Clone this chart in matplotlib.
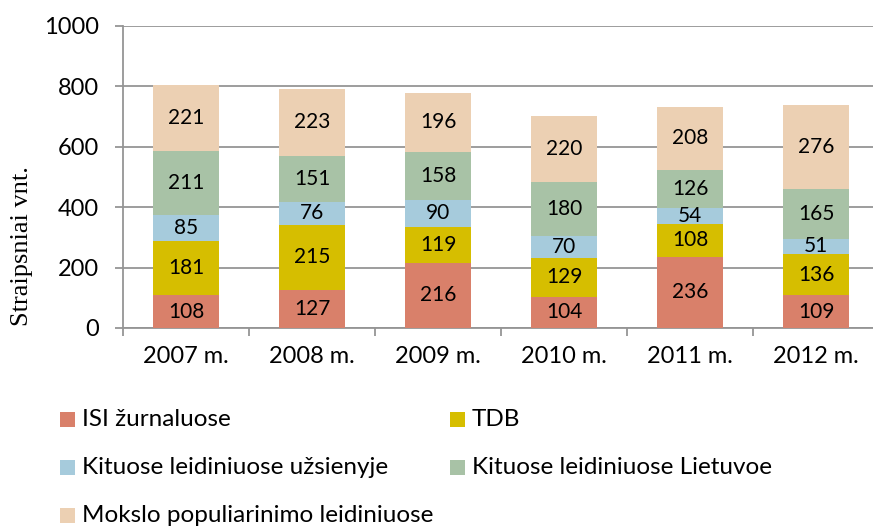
import matplotlib
matplotlib.use("Agg")
import matplotlib.pyplot as plt
import numpy as np
from matplotlib.patches import Rectangle

categories = ["2007 m.", "2008 m.", "2009 m.", "2010 m.", "2011 m.", "2012 m."]
series_names = ["ISI žurnaluose", "TDB", "Kituose leidiniuose užsienyje",
                "Kituose leidiniuose Lietuvoe", "Mokslo populiarinimo leidiniuose"]
isi = [108, 127, 216, 104, 236, 109]
tdb = [181, 215, 119, 129, 108, 136]
uzsienyje = [85, 76, 90, 70, 54, 51]
lietuvoe = [211, 151, 158, 180, 126, 165]
mokslo = [221, 223, 196, 220, 208, 276]
yticks = [0, 200, 400, 600, 800, 1000]

colors = ["#d9806a", "#d6be00", "#a6cbdc", "#a8c2a6", "#ecd0b3"]
series = [isi, tdb, uzsienyje, lietuvoe, mokslo]

plt.rcParams['font.family'] = ['Lato', 'DejaVu Sans']

fig = plt.figure(figsize=(8.73, 5.26), dpi=100)
W, H = 873, 526
ax = fig.add_axes([123 / W, 1 - 328 / H, 756 / W, 302 / H])

x = np.arange(len(categories))
bottom = np.zeros(len(categories))
for vals, c, name in zip(series, colors, series_names):
    ax.bar(x, vals, width=0.53, bottom=bottom, color=c, edgecolor='none', zorder=3)
    for xi, b, v in zip(x, bottom, vals):
        ax.text(xi, b + v / 2, str(v), ha='center', va='center', fontsize=15, color='black', zorder=4)
    bottom = bottom + np.array(vals)

ax.set_xlim(-0.5, len(categories) - 0.5)
ax.set_ylim(0, 1000)
ax.set_yticks(yticks)
ax.set_yticklabels([str(t) for t in yticks], fontsize=17)
ax.yaxis.grid(True, color='#959595', linewidth=1.3, zorder=0)
ax.set_axisbelow(True)
for s in ['top', 'right']:
    ax.spines[s].set_visible(False)
for s in ['left', 'bottom']:
    ax.spines[s].set_color('#959595')
    ax.spines[s].set_linewidth(1.3)
ax.tick_params(axis='y', length=5.5, color='#959595', width=1.3, pad=12)
ax.set_xticks(x)
ax.set_xticklabels(categories, fontsize=17)
ax.tick_params(axis='x', which='major', length=0, pad=13)
ax.set_xticks(np.arange(len(categories) + 1) - 0.5, minor=True)
ax.tick_params(axis='x', which='minor', length=5.5, color='#959595', width=1.3)

fig.text(22 / W, 1 - 246 / H, "Straipsniai vnt.", rotation=90, ha='center', va='center',
         fontsize=19, family=['Liberation Serif', 'DejaVu Serif'])

# legend (row-wise, two columns)
leg_pos = [(60, 419.5), (450, 419.5), (60, 467.5), (450, 467.5), (60, 515.5)]
for (lx, ly), c, name in zip(leg_pos, colors, series_names):
    fig.patches.append(Rectangle((lx / W, 1 - (ly + 7.5) / H), 15 / W, 15 / H,
                                 transform=fig.transFigure, facecolor=c, edgecolor='none'))
    fig.text((lx + 22) / W, 1 - ly / H, name, ha='left', va='center', fontsize=17.5)

fig.savefig("out.png", dpi=100)
